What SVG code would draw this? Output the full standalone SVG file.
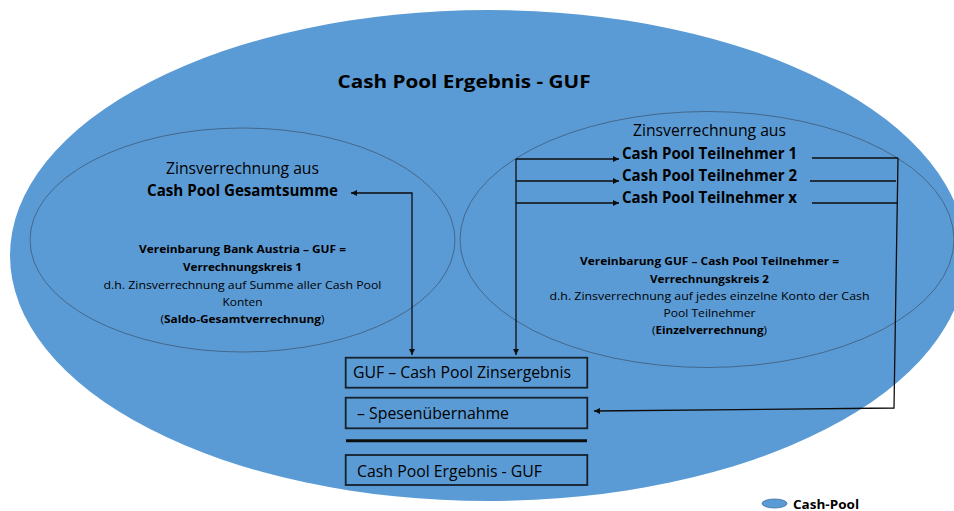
<svg xmlns="http://www.w3.org/2000/svg" width="954" height="511" viewBox="0 0 954 511">
<defs>
<style>
text{font-family:"Open Sans","Liberation Sans",sans-serif;fill:#000}
.b{font-weight:bold}
.hd{font-size:15.5px}
.sm{font-size:10.4px}
.bx{font-size:16px}
.inner{fill:none;stroke:#3E5B79;stroke-width:0.8}
.box{fill:none;stroke:#15202B;stroke-width:1.8}
.con{fill:none;stroke:#0d0d0d;stroke-width:1.3}
</style>
<marker id="ah" viewBox="0 0 10 10" refX="10" refY="5" markerWidth="7" markerHeight="6" markerUnits="userSpaceOnUse" orient="auto-start-reverse">
<path d="M0,0 L10,5 L0,10 z" fill="#0d0d0d"/>
</marker>
</defs>
<rect width="954" height="511" fill="#fff"/>
<g id="cash-pool">
<ellipse cx="488" cy="255.5" rx="478" ry="245.5" fill="#5B9BD5"/>
<text x="464" y="88" class="b" font-size="18.5" text-anchor="middle" textLength="253" lengthAdjust="spacingAndGlyphs">Cash Pool Ergebnis - GUF</text>
</g>
<g id="verrechnungskreis-1">
<ellipse class="inner" cx="242.5" cy="240" rx="212.5" ry="112"/>
<text x="242.5" y="174" class="hd" text-anchor="middle" textLength="153" lengthAdjust="spacingAndGlyphs">Zinsverrechnung aus</text>
<text x="242.5" y="196" class="hd b" text-anchor="middle" textLength="191" lengthAdjust="spacingAndGlyphs">Cash Pool Gesamtsumme</text>
<text x="242.5" y="253" class="sm b" text-anchor="middle" textLength="207" lengthAdjust="spacingAndGlyphs">Vereinbarung Bank Austria – GUF =</text>
<text x="242.5" y="271" class="sm b" text-anchor="middle" textLength="119" lengthAdjust="spacingAndGlyphs">Verrechnungskreis 1</text>
<text x="242.5" y="289" class="sm" text-anchor="middle" textLength="278" lengthAdjust="spacingAndGlyphs">d.h. Zinsverrechnung auf Summe aller Cash Pool</text>
<text x="242.5" y="306" class="sm" text-anchor="middle" textLength="40" lengthAdjust="spacingAndGlyphs">Konten</text>
<text x="242.5" y="323" class="sm" text-anchor="middle" textLength="164" lengthAdjust="spacingAndGlyphs">(<tspan class="b">Saldo-Gesamtverrechnung</tspan>)</text>
</g>
<g id="verrechnungskreis-2">
<ellipse class="inner" cx="707" cy="239.5" rx="247" ry="128"/>
<text x="709.5" y="136" class="hd" text-anchor="middle" textLength="153" lengthAdjust="spacingAndGlyphs">Zinsverrechnung aus</text>
<text x="622" y="159" class="hd b" textLength="175" lengthAdjust="spacingAndGlyphs">Cash Pool Teilnehmer 1</text>
<text x="622" y="181" class="hd b" textLength="175" lengthAdjust="spacingAndGlyphs">Cash Pool Teilnehmer 2</text>
<text x="622" y="203" class="hd b" textLength="175" lengthAdjust="spacingAndGlyphs">Cash Pool Teilnehmer x</text>
<text x="709.5" y="265" class="sm b" text-anchor="middle" textLength="259" lengthAdjust="spacingAndGlyphs">Vereinbarung GUF – Cash Pool Teilnehmer =</text>
<text x="709.5" y="283" class="sm b" text-anchor="middle" textLength="119" lengthAdjust="spacingAndGlyphs">Verrechnungskreis 2</text>
<text x="709.5" y="300" class="sm" text-anchor="middle" textLength="320" lengthAdjust="spacingAndGlyphs">d.h. Zinsverrechnung auf jedes einzelne Konto der Cash</text>
<text x="709.5" y="317" class="sm" text-anchor="middle" textLength="92" lengthAdjust="spacingAndGlyphs">Pool Teilnehmer</text>
<text x="709.5" y="334" class="sm" text-anchor="middle" textLength="115" lengthAdjust="spacingAndGlyphs">(<tspan class="b">Einzelverrechnung</tspan>)</text>
</g>
<g id="zinsergebnis">
<rect class="box" x="345.7" y="357.7" width="241.6" height="30"/>
<text x="353" y="378" class="bx" textLength="218" lengthAdjust="spacingAndGlyphs">GUF – Cash Pool Zinsergebnis</text>
</g>
<g id="spesenuebernahme">
<rect class="box" x="345.7" y="397.7" width="241.6" height="30.6"/>
<text x="357" y="419" class="bx" textLength="152" lengthAdjust="spacingAndGlyphs">– Spesenübernahme</text>
</g>
<g id="trennlinie">
<line x1="346" y1="440.7" x2="587" y2="440.7" stroke="#0d0d0d" stroke-width="3"/>
</g>
<g id="ergebnis">
<rect class="box" x="345.7" y="455" width="241.6" height="30"/>
<text x="357" y="476.7" class="bx" textLength="185" lengthAdjust="spacingAndGlyphs">Cash Pool Ergebnis - GUF</text>
</g>
<g id="legende">
<ellipse cx="774.5" cy="503.5" rx="12.5" ry="4.5" fill="#5B9BD5" stroke="#41719C" stroke-width="0.8"/>
<text x="793" y="508.5" class="b" font-size="12.5" textLength="66" lengthAdjust="spacingAndGlyphs">Cash-Pool</text>
</g>
<g id="connectors">
<path class="con" d="M351,193 L412,193 L412,355" marker-start="url(#ah)" marker-end="url(#ah)"/>
<path class="con" d="M516,159 L516,355" marker-end="url(#ah)"/>
<path class="con" d="M516,159 L619,159" marker-end="url(#ah)"/>
<path class="con" d="M516,181 L619,181" marker-end="url(#ah)"/>
<path class="con" d="M516,203 L619,203" marker-end="url(#ah)"/>
<path class="con" d="M812,158 L898,158"/>
<path class="con" d="M810,181 L896,181"/>
<path class="con" d="M812,203 L898,203"/>
<path class="con" d="M898,158 L894,408 L594,411" marker-end="url(#ah)"/>
</g>
</svg>
